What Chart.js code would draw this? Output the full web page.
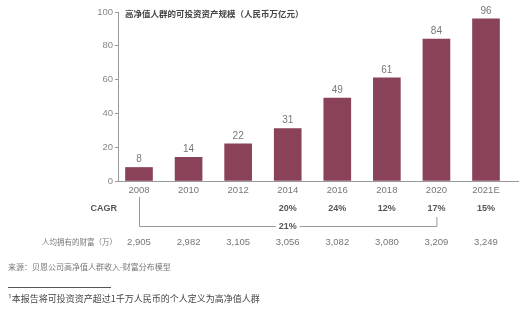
<!DOCTYPE html>
<html>
<head>
<meta charset="utf-8">
<script src="https://cdn.jsdelivr.net/npm/chart.js@4.4.1/dist/chart.umd.min.js"></script>
<style>
  html, body { margin: 0; padding: 0; background: #fff; }
  #wrap { position: relative; width: 526px; height: 332px; }
</style>
</head>
<body>
<div id="wrap"><canvas id="chart" width="526" height="332"></canvas></div>
<script>
'use strict';

/* ---- Data ---- */
const years   = ['2008', '2010', '2012', '2014', '2016', '2018', '2020', '2021E'];
const assets  = [8, 14, 22, 31, 49, 61, 84, 96];          // 万亿元
const cagr    = ['', '', '', '20%', '24%', '12%', '17%', '15%'];
const wealth  = ['2,905', '2,982', '3,105', '3,056', '3,082', '3,080', '3,209', '3,249'];
const yTicks  = [0, 20, 40, 60, 80, 100];
const overallCagr = '21%';
const bracketFrom = 0, bracketTo = 6, bracketLabelAt = 3;

const TITLE    = '高净值人群的可投资资产规模（人民币万亿元）';
const CAGR_LBL = 'CAGR';
const WEALTH_LBL = '人均拥有的财富（万）';
const SOURCE   = '来源：贝恩公司高净值人群收入-财富分布模型';
const NOTE     = '¹本报告将可投资资产超过1千万人民币的个人定义为高净值人群';

const BAR   = '#8a4258';
const FONT  = '"Liberation Sans", Arial, "Noto Sans CJK SC", sans-serif';
const CJK   = '"Noto Sans CJK SC", sans-serif';

/* ---- Extra text / bracket drawn against the scales ---- */
const extras = {
  id: 'extras',
  afterDraw(chart) {
    const { ctx, scales: { x, y }, chartArea } = chart;
    const meta = chart.getDatasetMeta(0);
    ctx.save();

    // value labels above bars
    ctx.font = '10px ' + FONT;
    ctx.fillStyle = '#777';
    ctx.textAlign = 'center';
    ctx.textBaseline = 'bottom';
    meta.data.forEach((bar, i) => ctx.fillText(String(assets[i]), bar.x, bar.y - 3));

    // title
    ctx.font = 'bold 8.5px ' + CJK;
    ctx.fillStyle = '#444';
    ctx.textAlign = 'left';
    ctx.textBaseline = 'middle';
    ctx.fillText(TITLE, chartArea.left + 7, y.getPixelForValue(100) + 2);

    // CAGR row
    const rowCagr = 209, rowBracket = 226, rowWealth = 242;
    ctx.font = 'bold 9px ' + FONT;
    ctx.fillStyle = '#555';
    ctx.textAlign = 'right';
    ctx.fillText(CAGR_LBL, chartArea.left - 1, rowCagr);
    ctx.textAlign = 'center';
    cagr.forEach((c, i) => { if (c) ctx.fillText(c, x.getPixelForValue(i), rowCagr); });

    // bracket
    const bx0 = x.getPixelForValue(bracketFrom);
    const bx1 = x.getPixelForValue(bracketTo);
    const bl  = x.getPixelForValue(bracketLabelAt);
    ctx.strokeStyle = '#999';
    ctx.lineWidth = 1;
    ctx.beginPath();
    ctx.moveTo(bx0 + 0.5, 197);
    ctx.lineTo(bx0 + 0.5, rowBracket + 0.5);
    ctx.lineTo(bl - 12, rowBracket + 0.5);
    ctx.moveTo(bl + 12, rowBracket + 0.5);
    ctx.lineTo(bx1 + 0.5, rowBracket + 0.5);
    ctx.lineTo(bx1 + 0.5, 217);
    ctx.stroke();
    ctx.fillText(overallCagr, bl, rowBracket + 1);

    // wealth row
    ctx.font = '7.5px ' + CJK;
    ctx.fillStyle = '#777';
    ctx.textAlign = 'right';
    ctx.fillText(WEALTH_LBL, chartArea.left - 1, rowWealth);
    ctx.font = '9.5px ' + FONT;
    ctx.textAlign = 'center';
    wealth.forEach((w, i) => ctx.fillText(w, x.getPixelForValue(i), rowWealth));

    // source + footnote
    ctx.textAlign = 'left';
    ctx.font = '8px ' + CJK;
    ctx.fillStyle = '#777';
    ctx.fillText(SOURCE, 8, 267);
    ctx.strokeStyle = '#555';
    ctx.beginPath();
    ctx.moveTo(8, 287.5);
    ctx.lineTo(111, 287.5);
    ctx.stroke();
    ctx.font = '9px ' + CJK;
    ctx.fillStyle = '#444';
    ctx.fillText(NOTE, 8, 299);

    ctx.restore();
  }
};

new Chart(document.getElementById('chart'), {
  type: 'bar',
  data: {
    labels: years,
    datasets: [{
      data: assets,
      backgroundColor: BAR,
      barThickness: 27,
    }],
  },
  options: {
    responsive: false,
    animation: false,
    layout: { padding: { top: 12, right: 8, left: 0, bottom: 0 } },
    plugins: { legend: { display: false }, tooltip: { enabled: false } },
    scales: {
      x: {
        offset: true,
        grid: { display: false, drawTicks: false },
        border: { color: '#999', width: 1 },
        ticks: { color: '#777', font: { family: FONT, size: 9.5 }, padding: 4, maxRotation: 0 },
        afterFit: s => { s.height = 151; },
        // stretch the axis so the first bar sits close to the y axis
        afterUpdate: s => { s._startValue = -0.4236; s._valueRange = 8.069; },
      },
      y: {
        min: 0,
        max: 100,
        afterBuildTicks: s => { s.ticks = yTicks.map(v => ({ value: v })); },
        grid: { drawOnChartArea: false, tickLength: 3, color: '#999' },
        border: { color: '#999', width: 1 },
        ticks: { color: '#888', font: { family: FONT, size: 9.5 }, padding: 2 },
        afterFit: s => { s.width = 118; },
      },
    },
  },
  plugins: [extras],
});
</script>
</body>
</html>
